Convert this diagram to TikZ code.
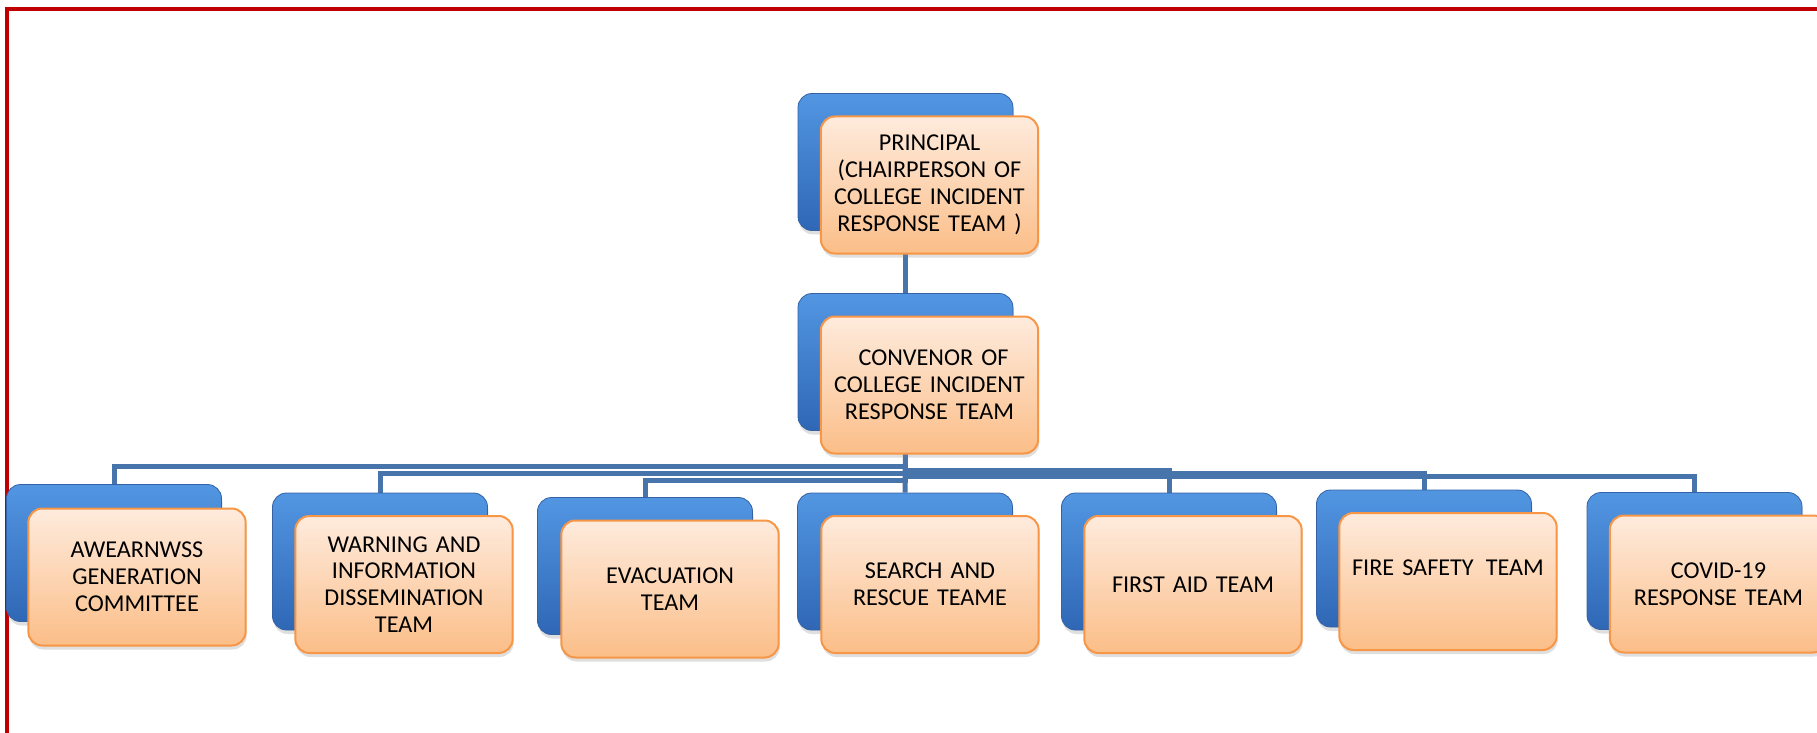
\documentclass[tikz,border=0pt]{standalone}
\usepackage{fontspec}
\setmainfont{Carlito}
\usepackage{tikz}
\usetikzlibrary{shapes, arrows, positioning, calc, backgrounds, shadows}
\definecolor{bluehi}{HTML}{5296E2}
\definecolor{bluemid}{HTML}{3C7DCE}
\definecolor{bluelo}{HTML}{2F67B5}
\definecolor{blueedge}{HTML}{3462A5}
\definecolor{peachhi}{HTML}{FEEBDD}
\definecolor{peachlo}{HTML}{FBBE88}
\definecolor{peachedge}{HTML}{F79646}
\definecolor{linkblue}{HTML}{4674AB}
\definecolor{framered}{HTML}{C00000}
\tikzstyle{backbox} = [rectangle, draw=blueedge, top color=bluehi, middle color=bluemid, bottom color=bluelo, rounded corners=7pt, minimum width=107.5pt, minimum height=68.5pt, drop shadow={opacity=0.25, shadow xshift=0.5pt, shadow yshift=-2pt}]
\tikzstyle{teambox} = [rectangle, draw=peachedge, line width=1pt, top color=peachhi, bottom color=peachlo, rounded corners=7pt, minimum width=108pt, minimum height=68.5pt, text width=102pt, align=center, font=\fontsize{12.1}{13.4}\selectfont, drop shadow={opacity=0.25, shadow xshift=0.5pt, shadow yshift=-2pt}]
\tikzstyle{link} = [draw=linkblue, line width=2.5pt]

\begin{document}
\begin{tikzpicture}[x=0.5pt, y=-0.5pt]
    \useasboundingbox (0,0) rectangle (1817,733);
    \draw [framered, line width=2pt] (7,9) rectangle (1850,760);

    % top of the tree
    \node (princ-b) [backbox] at (905.5,162) {};
    \node (princ) [teambox] at ($(princ-b)+(24,23)$) {PRINCIPAL\\(CHAIRPERSON OF\\COLLEGE INCIDENT\\RESPONSE TEAM )};
    \node (conv-b) [backbox] at (905.5,362) {};
    \node (conv) [teambox] at ($(conv-b)+(24,23)$) {\ CONVENOR OF\\COLLEGE INCIDENT\\RESPONSE TEAM};

    % teams
    \node (awar-b) [backbox] at (114,553) {};
    \node (awar) [teambox] at ($(awar-b)+(23,24)$) {AWEARNWSS\\GENERATION\\COMMITTEE};
    \node (warn-b) [backbox] at (380,561.5) {};
    \node (warn) [teambox] at ($(warn-b)+(24,23)$) {WARNING AND\\INFORMATION\\DISSEMINATION\\TEAM};
    \node (evac-b) [backbox] at (645,566) {};
    \node (evac) [teambox] at ($(evac-b)+(25,23)$) {EVACUATION\\TEAM};
    \node (srch-b) [backbox] at (905,561.5) {};
    \node (srch) [teambox] at ($(srch-b)+(25,23)$) {SEARCH AND\\RESCUE TEAME};
    \node (aid-b) [backbox] at (1169,561.5) {};
    \node (aid) [teambox] at ($(aid-b)+(24,23)$) {FIRST AID TEAM};
    \node (fire-b) [backbox] at (1424,558.5) {};
    \node (fire) [teambox] at ($(fire-b)+(24,23)$) {FIRE SAFETY\,\ TEAM\\ \mbox{}};
    \node (covid-b) [backbox] at (1694.5,561) {};
    \node (covid) [teambox] at ($(covid-b)+(24,23)$) {COVID-19\\RESPONSE TEAM};

    % connectors
    \begin{scope}[on background layer]
        \draw [link] (princ-b) -- (conv-b);
        \draw [link] (conv-b) -- ++(0,104) -| (awar-b);
        \draw [link] (conv-b) -- ++(0,111) -| (warn-b);
        \draw [link] (conv-b) -- ++(0,118) -| (evac-b);
        \draw [link] (conv-b) -- (srch-b);
        \draw [link] (conv-b) -- ++(0,108) -| (aid-b);
        \draw [link] (conv-b) -- ++(0,111) -| (fire-b);
        \draw [link] (conv-b) -- ++(0,114) -| (covid-b);
    \end{scope}
\end{tikzpicture}
\end{document}
